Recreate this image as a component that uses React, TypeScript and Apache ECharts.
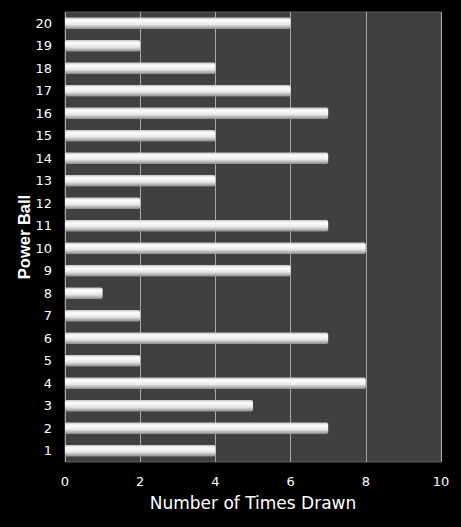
import React, { useEffect, useRef } from "react";
import * as echarts from "echarts";

const balls = [
  "1", "2", "3", "4", "5", "6", "7", "8", "9", "10",
  "11", "12", "13", "14", "15", "16", "17", "18", "19", "20",
];
const timesDrawn = [4, 7, 5, 8, 2, 7, 2, 1, 6, 8, 7, 2, 4, 7, 4, 7, 6, 4, 2, 6];

const FONT = "'DejaVu Sans', Verdana, sans-serif";

const App: React.FC = () => {
  const chartRef = useRef<HTMLDivElement | null>(null);

  useEffect(() => {
    document.body.style.margin = "0";
    document.body.style.background = "#000";
    if (!chartRef.current) return;

    const chart = echarts.init(chartRef.current, undefined, { renderer: "svg" });

    const barColor = new echarts.graphic.LinearGradient(0, 0, 0, 1, [
      { offset: 0, color: "#c4c4c4" },
      { offset: 0.25, color: "#ffffff" },
      { offset: 0.6, color: "#e8e8e8" },
      { offset: 1, color: "#8a8a8a" },
    ]);

    const option: any = {
      animation: false,
      backgroundColor: "#000000",
      textStyle: { fontFamily: FONT },
      grid: {
        left: 65,
        right: 20,
        top: 12,
        bottom: 65,
        show: true,
        backgroundColor: "#404040",
        borderColor: "#5a5a5a",
        borderWidth: 1,
      },
      xAxis: {
        type: "value",
        min: 0,
        max: 10,
        interval: 2,
        name: "Number of Times Drawn",
        nameLocation: "middle",
        nameGap: 32,
        nameMoveOverlap: false,
        nameTextStyle: { color: "#ffffff", fontSize: 17, fontFamily: FONT },
        axisLine: { show: false },
        axisTick: { show: false },
        axisLabel: { color: "#ffffff", fontSize: 13, margin: 13, fontFamily: FONT },
        splitLine: { lineStyle: { color: "#a8a8a8", width: 1 } },
      },
      yAxis: {
        type: "category",
        data: balls,
        name: "Power Ball",
        nameLocation: "middle",
        nameGap: 33,
        nameMoveOverlap: false,
        nameTextStyle: {
          color: "#ffffff",
          fontSize: 16.5,
          fontWeight: "bold",
          fontFamily: "'Liberation Sans', Arial, sans-serif",
        },
        axisLine: { show: false },
        axisTick: { show: false },
        axisLabel: { color: "#ffffff", fontSize: 13, margin: 13, fontFamily: FONT },
        splitLine: { show: false },
      },
      series: [
        {
          type: "bar",
          data: timesDrawn,
          barWidth: "52%",
          itemStyle: {
            color: barColor,
            borderRadius: [0, 2, 2, 0],
          },
        },
      ],
    };

    chart.setOption(option);
    return () => chart.dispose();
  }, []);

  return <div ref={chartRef} style={{ width: "461px", height: "527px" }} />;
};

export default App;
